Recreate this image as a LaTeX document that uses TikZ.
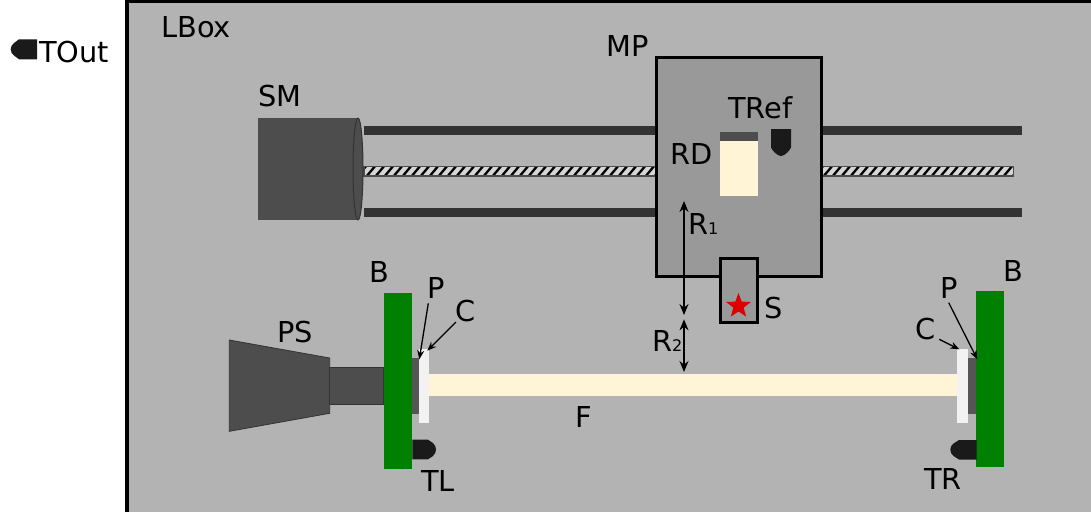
\documentclass[tikz,border=0pt]{standalone}
\usepackage{fontspec}
\setmainfont{DejaVu Sans}
\usetikzlibrary{arrows.meta,shapes.geometric}
\definecolor{boxgray}{HTML}{B3B3B3}
\definecolor{mpgray}{HTML}{999999}
\definecolor{dark}{HTML}{4D4D4D}
\definecolor{rod}{HTML}{333333}
\definecolor{sensor}{HTML}{1A1A1A}
\definecolor{cream}{HTML}{FFF4D5}
\definecolor{capw}{HTML}{F2F2F2}
\definecolor{plate}{HTML}{555555}
\definecolor{bgreen}{HTML}{008000}
\definecolor{starred}{HTML}{DD0000}
\tikzset{
  lbl/.style={anchor=base west,inner sep=0pt,font=\fontsize{28.8}{30}\selectfont,text=black},
  framebox/.style={draw=black,line width=3pt,fill=#1},
  solid part/.style={fill=dark,draw=rod,line width=0.8pt},
  sensorshape/.style={fill=sensor,draw=none},
  greenbar/.style={fill=bgreen,draw=none},
  dim/.style={draw=black,line width=1.4pt,{Stealth[length=11pt,width=9pt]}-{Stealth[length=11pt,width=9pt]}},
  pointer/.style={draw=black,line width=1.3pt,-{Stealth[length=9pt,width=7pt]}},
}
\newcommand{\hatchbar}[2]{%
  \begin{scope}
    \clip (#1,166.5) rectangle (#2,176);
    \fill[boxgray!55!white] (#1,166.5) rectangle (#2,176);
    \foreach \k in {0,...,40}{
      \draw[black,line width=2.3pt] ({#1+\k*9-7},177) -- ({#1+\k*9+3},165);
    }
  \end{scope}
  \draw[draw=black!70,line width=1.1pt] (#1,166.5) rectangle (#2,176);
}
\begin{document}
\begin{tikzpicture}[x=1pt,y=-1pt]
\useasboundingbox[fill=white] (0,0) rectangle (1091,512);
% enclosing box
\path[fill=boxgray] (127,1) rectangle (1091,512);
\draw[black,line width=3.2pt] (127,512) -- (127,1) -- (1091,1);
% rods behind the movable platform
\fill[rod] (364,125.5) rectangle (657,134.5);
\fill[rod] (364,208) rectangle (657,216.5);
\fill[rod] (821,125.5) rectangle (1022,134.5);
\fill[rod] (821,208) rectangle (1022,216.5);
\hatchbar{364}{657}
\hatchbar{821}{1013.7}
% stepper motor
\path[fill=dark] (258,118) rectangle (359,220);
\draw[fill=dark,draw=rod,line width=1pt] (358,169) ellipse [x radius=5,y radius=51];
% movable platform
\draw[framebox=mpgray] (656.5,57) rectangle (821.5,276);
\fill[cream] (720,140.5) rectangle (757.7,196);
\fill[dark] (720,131.7) rectangle (757.7,140.5);
\draw[framebox=mpgray] (720.5,258) rectangle (757,322);
\node[star,star points=5,star point ratio=2.4,fill=starred,inner sep=0pt,minimum size=26pt] (star) at (738.5,306) {};
% TRef sensor
\fill[sensorshape] (771,129) -- (791,129) -- (791,147.5) .. controls (790,150) and (785,156) .. (781,156) .. controls (777,156) and (772,150) .. (771,147.5) -- cycle;
% PS
\draw[solid part] (229.3,340) -- (329.7,358) -- (329.7,413.3) -- (229.3,431.3) -- cycle;
\draw[solid part] (329.7,367.7) rectangle (383,404);
% left side
\fill[greenbar] (384.3,293) rectangle (412.3,469);
\fill[plate] (412.3,358) rectangle (419.3,413.7);
\fill[capw] (419.3,349.3) rectangle (429,422.7);
\fill[cream] (429,374.3) rectangle (957.3,396.3);
\fill[sensorshape] (412.3,439.7) -- (428,439.7) -- (433,443) .. controls (435,445) and (436,447) .. (436,449.5) .. controls (436,452) and (435,454) .. (433,456) -- (428,459.3) -- (412.3,459.3) -- cycle;
% right side
\fill[greenbar] (976,291.3) rectangle (1004,467.3);
\fill[plate] (968.3,358) rectangle (976,414);
\fill[capw] (957.3,349.3) rectangle (968,422.7);
\fill[sensorshape] (976.5,440) -- (959,440) -- (953.5,443.5) .. controls (951.5,445) and (950.3,447) .. (950.3,449.7) .. controls (950.3,452) and (951.5,454.5) .. (953.5,456) -- (959,459.5) -- (976.5,459.5) -- cycle;
% TOut sensor
\fill[sensorshape] (37,39.3) -- (19,39.3) -- (14,43) .. controls (12,44.5) and (10.7,47) .. (10.7,49.3) .. controls (10.7,52) and (12,54) .. (14,55.5) -- (19,59.3) -- (37,59.3) -- cycle;
% labels
\node[lbl] (lbox) at (161,37) {LBox};
\node[lbl] (tout) at (39,62) {TOut};
\node[lbl] (mp) at (606,56) {MP};
\node[lbl] (sm) at (258,106) {SM};
\node[lbl] (tref) at (728,118.7) {TRef};
\node[lbl] (rd) at (670,164.3) {RD};
\node[lbl] (r1) at (688,234.3) {R{\fontsize{16}{18}\selectfont 1}};
\node[lbl] (s) at (764,318) {S};
\node[lbl] (r2) at (652,351) {R{\fontsize{16}{18}\selectfont 2}};
\node[lbl] (bl) at (369,282.7) {B};
\node[lbl] (pl) at (427,298) {P};
\node[lbl] (cl) at (455,321.7) {C};
\node[lbl] (ps) at (277,342.7) {PS};
\node[lbl] (tl) at (421,491.7) {TL};
\node[lbl] (f) at (575,427) {F};
\node[lbl] (br) at (1003,281.7) {B};
\node[lbl] (pr) at (940,298) {P};
\node[lbl] (cr) at (915,339) {C};
\node[lbl] (tr) at (924,489.3) {TR};
% connector ends
\coordinate (r1top) at (684,201);
\coordinate (r1bot) at (684,315);
\coordinate (r2top) at (684,319.3);
\coordinate (r2bot) at (684,372);
\coordinate (plstart) at (428.3,303.3);
\coordinate (plend) at (419.3,359.3);
\coordinate (clstart) at (456,322);
\coordinate (clend) at (427.3,350.7);
\coordinate (prstart) at (948.7,302.7);
\coordinate (prend) at (977.3,359.3);
\coordinate (crstart) at (939.3,339.3);
\coordinate (crend) at (959.3,349.3);
\draw[dim] (r1top) -- (r1bot);
\draw[dim] (r2top) -- (r2bot);
\draw[pointer] (plstart) -- (plend);
\draw[pointer] (clstart) -- (clend);
\draw[pointer] (prstart) -- (prend);
\draw[pointer] (crstart) -- (crend);
\end{tikzpicture}
\end{document}
